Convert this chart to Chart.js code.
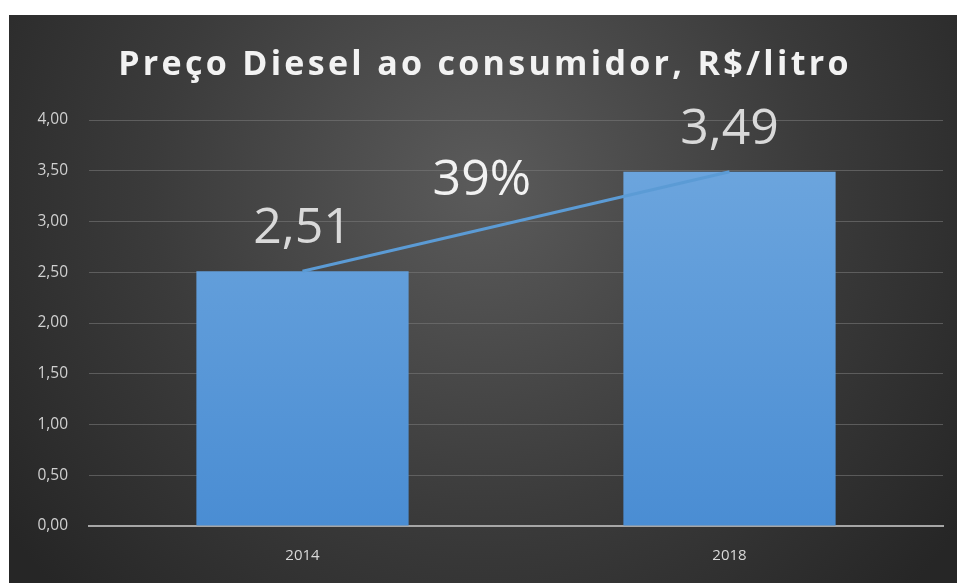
<!DOCTYPE html>
<html><head><meta charset="utf-8">
<script src="https://cdn.jsdelivr.net/npm/chart.js@4/dist/chart.umd.min.js"></script>
<style>
html,body{margin:0;padding:0;background:#fff;}
#wrap{position:absolute;left:9px;top:15px;width:948px;height:568px;}
</style></head>
<body><div id="wrap"><canvas id="c"></canvas></div>
<script>
const titleText = 'Preço Diesel ao consumidor, R$/litro';
const categories = ['2014', '2018'];
const prices = [2.51, 3.49];
const priceLabels = ['2,51', '3,49'];
const growthLabel = '39%';
const growthAnchor = [0.42, 3.26]; // category index, value
const yTicks = [0, 0.5, 1, 1.5, 2, 2.5, 3, 3.5, 4];

const bgPlugin = {
  id: 'bg',
  beforeDraw(chart) {
    const {ctx, width, height} = chart;
    const g = ctx.createRadialGradient(width*0.5, height*0.3, 10, width*0.5, height*0.3, width*0.62);
    g.addColorStop(0, '#5a5a5a');
    g.addColorStop(0.55, '#3b3b3b');
    g.addColorStop(1, '#262626');
    ctx.save(); ctx.fillStyle = g; ctx.fillRect(0, 0, width, height); ctx.restore();
  }
};
const textPlugin = {
  id: 'texts',
  afterDraw(chart) {
    const {ctx} = chart;
    const xs = chart.scales.x, ys = chart.scales.y;
    ctx.save();
    ctx.letterSpacing = '3.3px';
    ctx.font = 'bold 34px "Open Sans"';
    ctx.fillStyle = '#f2f2f2';
    ctx.textAlign = 'center';
    ctx.textBaseline = 'middle';
    ctx.fillText(titleText, chart.width/2 + 2, 50);
    ctx.letterSpacing = '0px';
    ctx.font = '400 50px "Open Sans"';
    ctx.fillStyle = '#d9d9d9';
    ctx.textBaseline = 'alphabetic';
    prices.forEach((v, i) => {
      ctx.fillText(priceLabels[i], xs.getPixelForValue(i), ys.getPixelForValue(v) - 28);
    });
    ctx.fillStyle = '#f2f2f2';
    const gx = xs.getPixelForValue(0) + (xs.getPixelForValue(1) - xs.getPixelForValue(0)) * growthAnchor[0];
    ctx.fillText(growthLabel, gx, ys.getPixelForValue(growthAnchor[1]));
    ctx.restore();
  }
};

const ctx = document.getElementById('c').getContext('2d');
new Chart(ctx, {
  data: {
    labels: categories,
    datasets: [
      {type: 'line', data: prices, borderColor: '#5b9bd5', borderWidth: 3, pointRadius: 0, order: 0},
      {type: 'bar', data: prices, order: 1,
       backgroundColor: (c) => {
         const a = c.chart.chartArea;
         if (!a) return '#5b9bd5';
         const g = c.chart.ctx.createLinearGradient(0, a.top, 0, a.bottom);
         g.addColorStop(0, '#70a8df');
         g.addColorStop(1, '#4a8dd3');
         return g;
       },
       categoryPercentage: 1, barPercentage: 0.497}
    ]
  },
  options: {
    responsive: true, maintainAspectRatio: false, animation: false,
    layout: {padding: {top: 105, right: 14, left: 0, bottom: 0}},
    plugins: {legend: {display: false}, tooltip: {enabled: false}, title: {display: false}},
    scales: {
      x: {
        grid: {display: false, drawTicks: false},
        border: {color: '#a6a6a6', width: 2},
        ticks: {color: '#d9d9d9', font: {family: 'Open Sans', size: 15}, padding: 21},
        afterFit(s) { s.height = 57; }
      },
      y: {
        min: 0, max: 4,
        afterBuildTicks(s) { s.ticks = yTicks.map(v => ({value: v})); },
        grid: {color: 'rgba(120,120,120,0.6)', drawTicks: false, lineWidth: 1},
        border: {display: false},
        ticks: {color: '#d0d0d0', font: {family: 'Open Sans', size: 15.5}, padding: 21,
          callback: (v) => v.toFixed(2).replace('.', ',')},
        afterFit(s) { s.width = 80; }
      }
    }
  },
  plugins: [bgPlugin, textPlugin]
});
</script></body></html>
